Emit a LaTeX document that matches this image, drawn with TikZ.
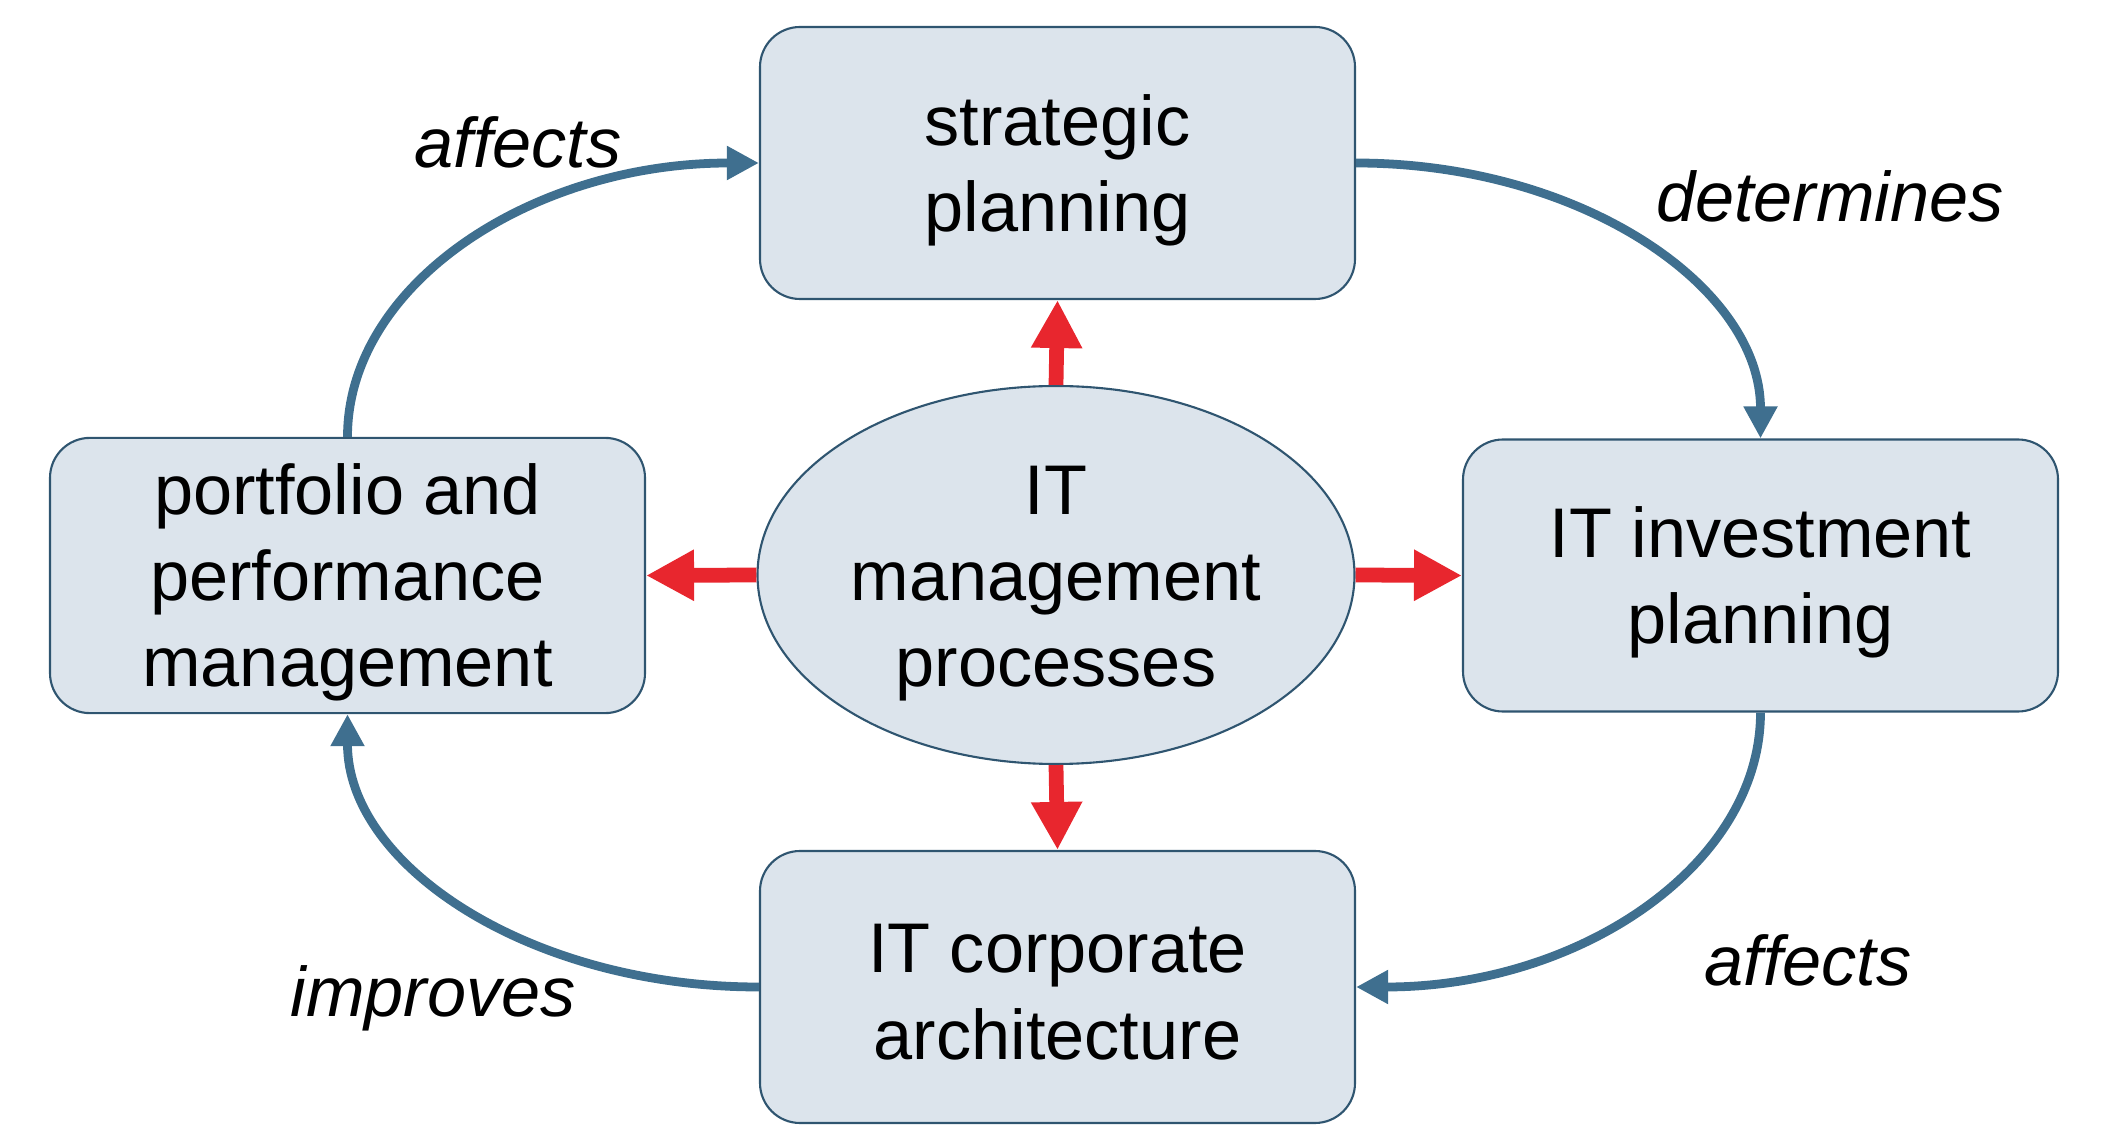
\documentclass[tikz,border=0pt]{standalone}
\usepackage{fontspec}
\setmainfont{Liberation Sans}
\usetikzlibrary{arrows.meta,shapes.geometric}
\definecolor{boxfill}{HTML}{DCE4EC}
\definecolor{boxline}{HTML}{2F5570}
\definecolor{flowblue}{HTML}{3F6F8F}
\definecolor{flowred}{HTML}{E8262E}
% struts so the lines sit as in the slide
\newcommand{\toprule}{\rule{0pt}{18.5pt}}
\newcommand{\botrule}{\rule[-2pt]{0pt}{2pt}}

\begin{document}
\begin{tikzpicture}[
  boxtext/.style={align=center, font=\fontsize{20}{24.5}\selectfont},
  proc/.style={boxtext, draw=boxline, fill=boxfill, line width=0.6pt, rounded corners=0.4cm,
    minimum width=5.95cm, minimum height=2.72cm},
  hub/.style={boxtext, ellipse, draw=boxline, fill=boxfill, line width=0.6pt, inner sep=0pt,
    minimum width=5.97cm, minimum height=3.78cm},
  flow/.style={draw=flowblue, line width=2.5pt, -{Triangle[length=3.2mm,width=3.2mm]}},
  push/.style={draw=flowred, line width=4.2pt, -{Triangle[length=4.8mm,width=4.8mm]}},
  verb/.style={font=\fontsize{20}{24}\selectfont\itshape, anchor=base}
]
\useasboundingbox (0,0) rectangle (21.10,-11.44);

\node[proc] (strat) at (10.575,-1.63) {\toprule strategic\\planning\botrule};
\node[proc] (port) at (3.475,-5.755) {\toprule portfolio and\\performance\\management\botrule};
\node[proc] (inv) at (17.605,-5.755) {\toprule IT investment\\planning\botrule};
\node[proc] (corp) at (10.575,-9.87) {\toprule IT corporate\\architecture\botrule};
\node[hub] (mgmt) at (10.56,-5.75) {\toprule IT\\management\\processes\botrule};

% red arrows out of the center
\draw[push] (mgmt.north) -- (strat.south);
\draw[push] (mgmt.west) -- (port.east);
\draw[push] (mgmt.east) -- (inv.west);
\draw[push] (mgmt.south) -- (corp.north);

% the cycle
\draw[flow] (port.north) .. controls +(0,1.52) and +(-2.28,0) .. (strat.west);
\draw[flow] (strat.east) .. controls +(2.24,0) and +(0,1.52) .. (inv.north);
\draw[flow] (inv.south) .. controls +(0,-1.52) and +(2.24,0) .. (corp.east);
\draw[flow] (corp.west) .. controls +(-2.28,0) and +(0,-1.52) .. (port.south);

\node[verb] (l1) at (5.18,-1.68) {affects};
\node[verb] (l2) at (18.30,-2.22) {determines};
\node[verb] (l3) at (18.08,-9.85) {affects};
\node[verb] (l4) at (4.33,-10.16) {improves};
\end{tikzpicture}
\end{document}
